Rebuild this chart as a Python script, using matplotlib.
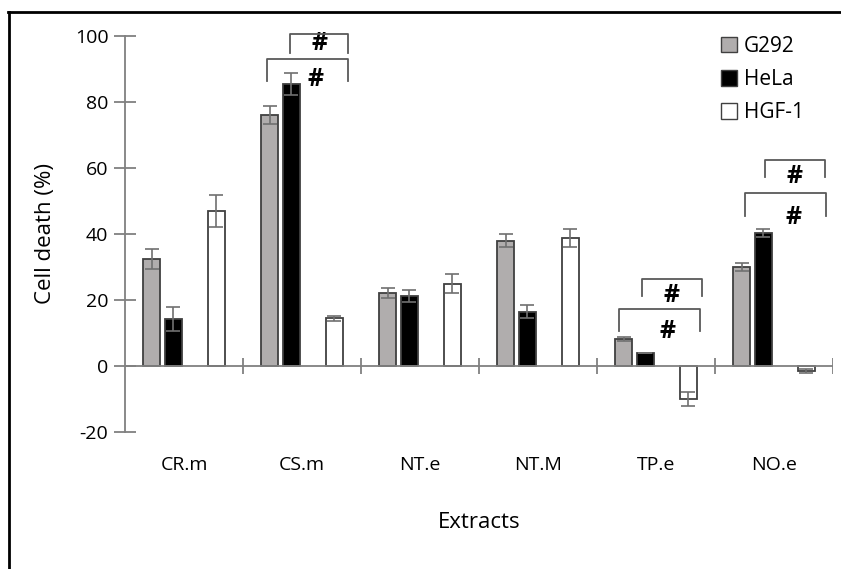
import matplotlib.pyplot as plt
from matplotlib.patches import Patch
from matplotlib.lines import Line2D
import numpy as np

plt.rcParams['font.family'] = ['Open Sans', 'DejaVu Sans']

extracts = ['CR.m', 'CS.m', 'NT.e', 'NT.M', 'TP.e', 'NO.e']
series = ['G292', 'HeLa', 'HGF-1']

g292 = [32.4, 76.0, 22.1, 38.0, 8.2, 30.0]
g292_err = [3.0, 2.7, 1.5, 2.0, 0.6, 1.2]
hela = [14.2, 85.5, 21.2, 16.5, 3.9, 40.3]
hela_err = [3.6, 3.3, 1.8, 2.0, 0.0, 1.2]
hgf1 = [47.0, 14.5, 25.0, 38.8, -10.0, -1.5]
hgf1_err = [4.8, 0.8, 3.0, 2.7, 2.0, 0.5]

yticks = [-20, 0, 20, 40, 60, 80, 100]

# significance brackets: (category, left, right, top, leg end, mark y)
brackets = [
    (1, -0.10, 0.39, 100.6, 94.8, 97.6),
    (1, -0.30, 0.39, 93.0, 86.4, 86.8),
    (4, -0.12, 0.39, 26.4, 21.2, 21.4),
    (4, -0.31, 0.37, 17.3, 10.6, 10.4),
    (5, -0.08, 0.43, 62.4, 57.3, 57.3),
    (5, -0.25, 0.44, 52.4, 45.5, 45.0),
]

fig = plt.figure(figsize=(8.41, 5.69), dpi=100)
ax = fig.add_axes([125 / 841, 1 - 432 / 569, 708 / 841, 396 / 569])

x = np.arange(len(extracts))
slot = 0.182
width = 0.145
edge = '#404040'
errc = '#707070'
colors = ['#b0adad', '#000000', '#ffffff']
values = [g292, hela, hgf1]
errors = [g292_err, hela_err, hgf1_err]
offsets = [-1.5 * slot, -0.5 * slot, 1.5 * slot]  # third slot is empty

for vals, errs, col, off in zip(values, errors, colors, offsets):
    ax.bar(x + off, vals, width, color=col, edgecolor=edge, linewidth=1.3,
           yerr=errs, error_kw=dict(ecolor=errc, elinewidth=1.2, capsize=5,
                                    capthick=1.2), zorder=2)

ax.set_xlim(-0.5, 5.5)
ax.set_ylim(-20, 100)
for s in ['top', 'right', 'bottom']:
    ax.spines[s].set_visible(False)
ax.spines['left'].set_color('#808080')
ax.spines['left'].set_linewidth(1.3)
ax.set_yticks(yticks)
ax.set_yticklabels([str(t) for t in yticks])
ax.tick_params(axis='y', direction='inout', length=16, width=1.3,
               color='#808080', labelsize=14, pad=4)
ax.set_xticks([])

ax.axhline(0, color='#808080', lw=1.3, zorder=3)
ax.vlines(np.arange(len(extracts)) + 0.5, -2.4, 2.4, color='#808080', lw=1.3,
          zorder=3)

for xi, name in zip(x, extracts):
    ax.text(xi, -30, name, ha='center', va='center', fontsize=14,
            clip_on=False)
ax.text(2.5, -47.3, 'Extracts', ha='center', va='center', fontsize=16,
        clip_on=False)
fig.text(45 / 841, 1 - 233 / 569, 'Cell death (%)', rotation=90,
         ha='center', va='center', fontsize=16)

for ci, l, r, top, leg, my in brackets:
    ax.plot([ci + l, ci + l, ci + r, ci + r], [leg, top, top, leg],
            color='#595959', lw=1.3, clip_on=False, zorder=4)
    ax.text(ci + (l + r) / 2 + 0.07 if l < -0.2 else ci + (l + r) / 2,
            my, '#', ha='center', va='center', fontsize=18, fontweight='bold',
            clip_on=False)

handles = [Patch(facecolor=c, edgecolor=edge, linewidth=1.0) for c in colors]
ax.legend(handles, series, loc='upper right', bbox_to_anchor=(0.985, 1.048),
          frameon=False, fontsize=15, handlelength=0.8, handleheight=0.8,
          handletextpad=0.3, labelspacing=0.58)

fig.add_artist(Line2D([8 / 841, 1.0], [1 - 12 / 569, 1 - 12 / 569],
                      color='black', lw=2, transform=fig.transFigure))
fig.add_artist(Line2D([9 / 841, 9 / 841], [0, 1 - 12 / 569],
                      color='black', lw=2, transform=fig.transFigure))

fig.savefig('out.png', dpi=100)
